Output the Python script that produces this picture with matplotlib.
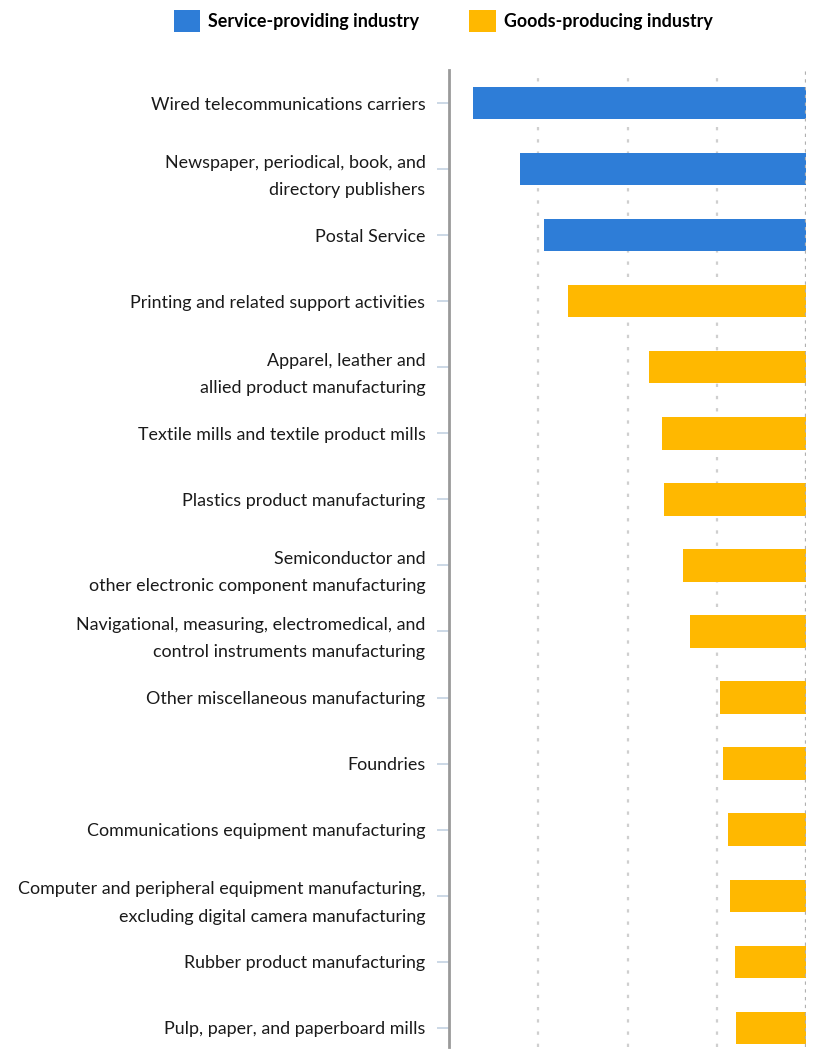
import matplotlib
matplotlib.use("Agg")
import matplotlib.pyplot as plt
from matplotlib.patches import Patch

plt.rcParams['font.family'] = ['Lato', 'DejaVu Sans']

industries = [
    "Wired telecommunications carriers",
    "Newspaper, periodical, book, and\ndirectory publishers",
    "Postal Service",
    "Printing and related support activities",
    "Apparel, leather and\nallied product manufacturing",
    "Textile mills and textile product mills",
    "Plastics product manufacturing",
    "Semiconductor and\nother electronic component manufacturing",
    "Navigational, measuring, electromedical, and\ncontrol instruments manufacturing",
    "Other miscellaneous manufacturing",
    "Foundries",
    "Communications equipment manufacturing",
    "Computer and peripheral equipment manufacturing,\nexcluding digital camera manufacturing",
    "Rubber product manufacturing",
    "Pulp, paper, and paperboard mills",
]
change = [-74.7, -64.2, -58.7, -53.3, -35.2, -32.3, -31.9, -27.5, -26.0,
          -19.2, -18.5, -17.4, -17.0, -15.9, -15.6]
sector = ["service", "service", "service"] + ["goods"] * 12

colors = {"service": "#2E7DD7", "goods": "#FFB800"}
legend_names = {"service": "Service-providing industry",
                "goods": "Goods-producing industry"}

W, H = 814, 1059
fig = plt.figure(figsize=(W / 100, H / 100), dpi=100)
ax = fig.add_axes([449 / W, 12 / H, 357 / W, (1047 - 70) / H])

ypos = list(range(len(industries)))
ax.barh(ypos, change, height=0.49,
        color=[colors[s] for s in sector], zorder=3)

ax.set_xlim(-80, 0)
ax.set_ylim(14.29, -0.5)
ax.set_xticks([-80, -60, -40, -20, 0])
ax.tick_params(axis='x', bottom=False, labelbottom=False)
for x in (-60, -40, -20):
    ax.axvline(x, color='#cfcfcf', linestyle=(0, (1.5, 4)), linewidth=1.6, zorder=1)
ax.axvline(0, color='#b0b0b0', linestyle=(0, (1.5, 2)), linewidth=1.6, zorder=4)

ax.set_yticks(ypos)
ax.set_yticklabels(industries, fontsize=12.9, color='#1a1a1a')
for lbl in ax.get_yticklabels():
    lbl.set_linespacing(1.88)
ax.tick_params(axis='y', length=9, width=1.3, color='#c8d5e4', pad=8)

for side in ('top', 'right', 'bottom'):
    ax.spines[side].set_visible(False)
ax.spines['left'].set_color('#9a9a9a')
ax.spines['left'].set_linewidth(2)

handles = [Patch(facecolor=colors[k], edgecolor='none', label=legend_names[k])
           for k in ("service", "goods")]
fig.legend(handles=handles, loc='center', bbox_to_anchor=(443 / W, 1 - 21 / H),
           ncol=2, frameon=False, handlelength=1.5, handleheight=1.5,
           handletextpad=0.45, columnspacing=2.75,
           prop={'weight': 'bold', 'size': 12.9})

fig.savefig("out.png", dpi=100)
